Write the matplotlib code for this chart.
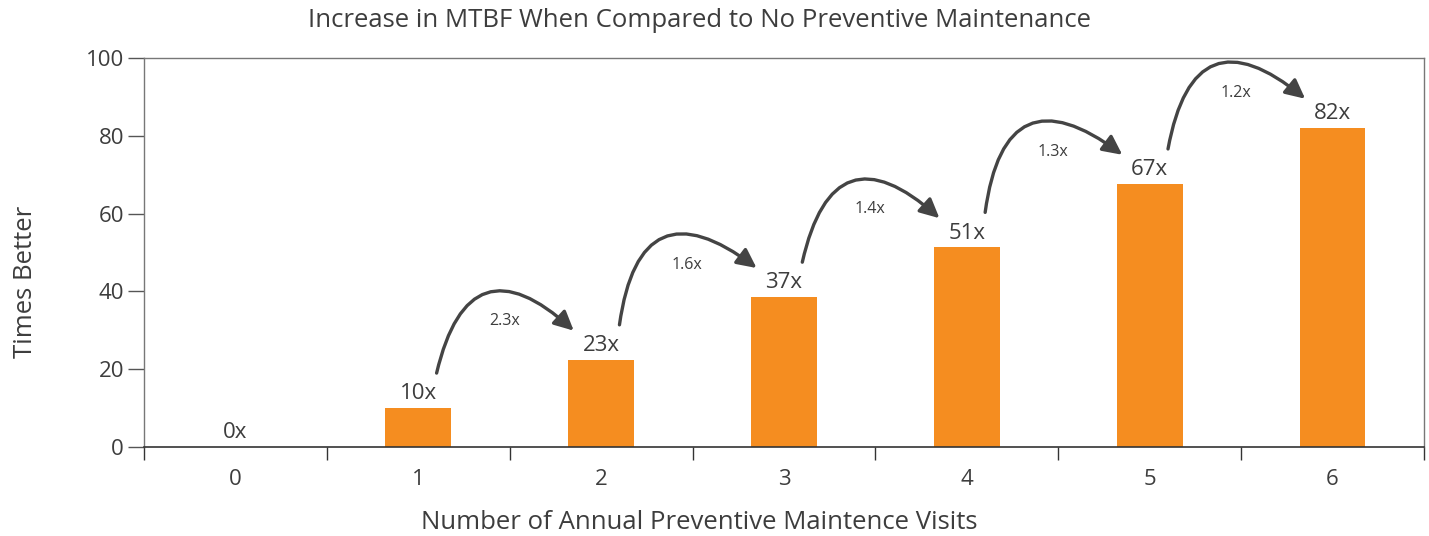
import matplotlib.pyplot as plt
from matplotlib.patches import FancyArrowPatch

plt.rcParams['font.family'] = ['Open Sans', 'DejaVu Sans']

# Data
visits = [0, 1, 2, 3, 4, 5, 6]
times_better = [0, 10, 22.4, 38.5, 51.3, 67.6, 82]
bar_labels = ['0x', '10x', '23x', '37x', '51x', '67x', '82x']
step_labels = ['2.3x', '1.6x', '1.4x', '1.3x', '1.2x']

text_col = '#3d3d3d'
bar_col = '#F58D20'
arrow_col = '#444444'

fig = plt.figure(figsize=(14.29, 5.36), dpi=100)
ax = fig.add_axes([0.1008, 0.166, 0.8957, 0.726])

ax.bar(visits, times_better, width=0.36, color=bar_col, zorder=2)

# value labels above bars
for x, v, lab in zip(visits, times_better, bar_labels):
    ax.text(x, v + 1.0, lab, ha='center', va='bottom', fontsize=16, color=text_col)

# curved arrows between bars
for i, lab in enumerate(step_labels):
    x0 = visits[i + 1]
    x1 = visits[i + 2]
    y0 = times_better[i + 1] + 9
    y1 = times_better[i + 2] + 7.5
    arr = FancyArrowPatch((x0 + 0.1, y0), (x1 - 0.15, y1),
                          connectionstyle='arc3,rad=-0.85',
                          arrowstyle='-|>,head_length=0.65,head_width=0.32',
                          mutation_scale=18,
                          color=arrow_col, lw=2.4, zorder=3,
                          shrinkA=0, shrinkB=0)
    ax.add_patch(arr)
    ax.text(x0 + 0.47, (y0 + y1) / 2 + 8, lab, ha='center', va='center',
            fontsize=11.5, color=text_col)

ax.set_xlim(-0.5, 6.5)
ax.set_ylim(0, 100)
ax.set_yticks([0, 20, 40, 60, 80, 100])
ax.set_xticks(visits)
ax.set_xticks([x - 0.5 for x in visits] + [6.5], minor=True)
ax.tick_params(axis='x', which='major', length=0, pad=16, labelsize=16, labelcolor=text_col)
ax.tick_params(axis='x', which='minor', length=9, width=1, color='#333333', direction='out')
ax.tick_params(axis='y', length=11.5, width=1, color='#555555', labelsize=16,
               labelcolor=text_col, pad=3)

for side in ['top', 'right', 'left']:
    ax.spines[side].set_color('#777777')
    ax.spines[side].set_linewidth(1)
ax.spines['bottom'].set_color('#333333')
ax.spines['bottom'].set_linewidth(1.2)

ax.set_title('Increase in MTBF When Compared to No Preventive Maintenance',
             fontsize=18.5, color=text_col, pad=22, x=0.434)
ax.set_xlabel('Number of Annual Preventive Maintence Visits', fontsize=18.5,
              color=text_col, labelpad=14, x=0.434)
ax.set_ylabel('Times Better', fontsize=18.5, color=text_col, labelpad=34, y=0.424)

fig.savefig('out.png', dpi=100)
